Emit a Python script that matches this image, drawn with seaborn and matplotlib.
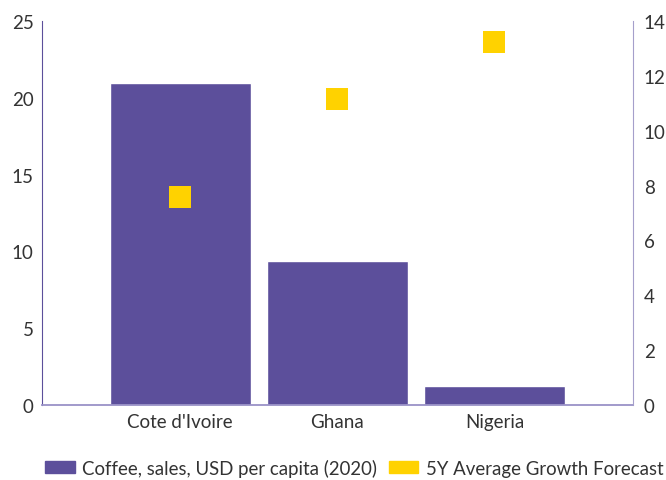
import numpy as np
import pandas as pd
import seaborn as sns
import matplotlib.pyplot as plt
from matplotlib.patches import Patch

# data
countries = ["Cote d'Ivoire", "Ghana", "Nigeria"]
sales_per_capita = [21.0, 9.4, 1.25]
growth_forecast = [7.6, 11.15, 13.25]

bar_color = "#5c4f9b"
dot_color = "#ffd200"
text_color = "#333333"

df = pd.DataFrame({
    "Country": countries,
    "Sales": sales_per_capita,
    "Growth": growth_forecast,
})

sns.set_style("white")
plt.rcParams["font.family"] = ["Lato", "DejaVu Sans"]

fig = plt.figure(figsize=(6.66, 4.81), dpi=100)
ax = fig.add_axes([0.063, 0.156, 0.887, 0.798])

sns.barplot(data=df, x="Country", y="Sales", color=bar_color, width=0.9,
            saturation=1, ax=ax)
ax.set_ylim(0, 25)
ax.set_yticks([0, 5, 10, 15, 20, 25])
ax.set_xlim(-0.88, 2.88)
ax.set_xlabel("")
ax.set_ylabel("")

ax2 = ax.twinx()
sns.scatterplot(data=df, x="Country", y="Growth", marker="s", s=270,
                color=dot_color, linewidth=0, ax=ax2, zorder=5)
ax2.set_ylim(0, 14)
ax2.set_yticks(range(0, 15, 2))
ax2.set_ylabel("")
ax2.set_xlim(-0.88, 2.88)

for a in (ax, ax2):
    a.spines["top"].set_visible(False)
    a.tick_params(length=0, labelsize=13.5, colors=text_color, pad=6)
ax.spines["left"].set_color(bar_color)
ax.spines["bottom"].set_color("#9a92c7")
ax.spines["bottom"].set_linewidth(1.3)
ax.spines["right"].set_visible(False)
ax2.spines["left"].set_visible(False)
ax2.spines["bottom"].set_visible(False)
ax2.spines["right"].set_color("#a59fcb")
ax2.tick_params(axis="y", pad=8)

handles = [Patch(color=bar_color, label="Coffee, sales, USD per capita (2020)"),
           Patch(color=dot_color, label="5Y Average Growth Forecast")]
leg = fig.legend(handles=handles, loc="center", bbox_to_anchor=(0.532, 0.026),
                 ncol=2, frameon=False, fontsize=13.4, handlelength=1.6,
                 handleheight=0.55, columnspacing=0.6, handletextpad=0.4)
for t in leg.get_texts():
    t.set_color(text_color)

fig.savefig("out.png", dpi=100)
